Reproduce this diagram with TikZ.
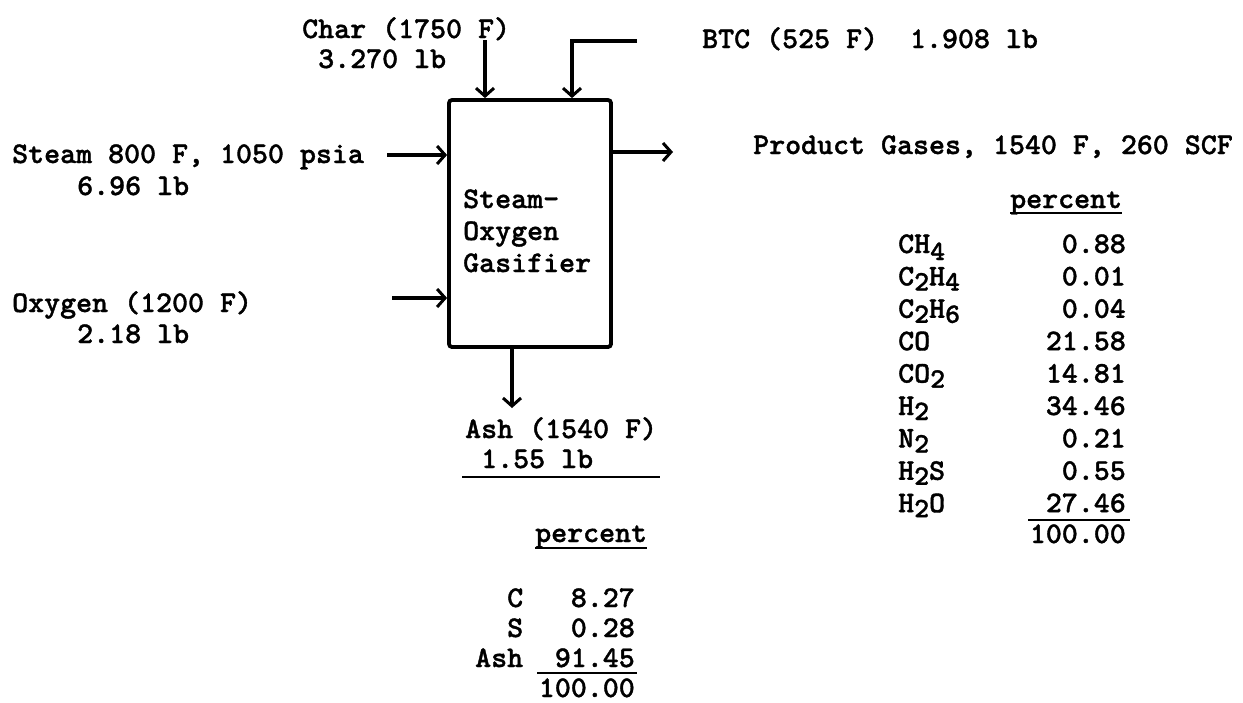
\documentclass[tikz,border=0pt]{standalone}
\usepackage{fontspec}
\newfontfamily\twfont{lmmonolt10-bold.otf}[FakeBold=1.2, FakeStretch=1.015]
\usetikzlibrary{arrows.meta}
\newcommand\sbs[1]{\raisebox{-5pt}{\fontsize{28}{28}\selectfont #1}}
\newcommand\sbd[1]{\raisebox{-7pt}{\fontsize{28}{28}\selectfont #1}}
\begin{document}
\begin{tikzpicture}[x=1pt,y=-1pt,
  tw/.style={font=\twfont\fontsize{30}{32}\selectfont, inner sep=0pt, anchor=base west},
  twr/.style={tw, anchor=base east},
  flow/.style={line width=3.2pt, -{Straight Barb[length=8pt,width=18pt,line width=3pt]}},
  ul/.style={line width=2.4pt},
  unit/.style={draw, line width=3.8pt, rounded corners=3pt, minimum width=162pt, minimum height=247pt, inner sep=0pt}]
\useasboundingbox (0,0) rectangle (1243,702);

% gasifier
\node[unit] (gas) at (530,223.5) {};
\node[tw] (g1) at (463,208) {Steam-};
\node[tw] (g2) at (463,240) {Oxygen};
\node[tw] (g3) at (463,272) {Gasifier};

% inputs
\node[tw] (char1) at (302,38) {Char (1750 F)};
\node[tw] (char2) at (318,68) {3.270 lb};
\node[tw] (btc) at (702,48) {BTC (525 F)~~1.908 lb};
\node[tw] (st1) at (12,163) {Steam 800 F, 1050 psia};
\node[tw] (st2) at (77,195) {6.96 lb};
\node[tw] (ox1) at (12,312) {Oxygen (1200 F)};
\node[tw] (ox2) at (77,343) {2.18 lb};
\node[tw] (prod) at (753,154) {Product Gases, 1540 F, 260 SCF};

% arrows
\coordinate (charT) at (485,40);
\draw[flow] (charT) -- (charT |- gas.north);
\coordinate (btcA) at (637,41);
\coordinate (btcB) at (572,41);
\draw[flow] (btcA) -- (btcB) -- (btcB |- gas.north);
\coordinate (stT) at (387,155);
\draw[flow] (stT) -- (stT -| gas.west);
\coordinate (oxT) at (392,298);
\draw[flow] (oxT) -- (oxT -| gas.west);
\coordinate (prH) at (673,152);
\draw[flow] (prH -| gas.east) -- (prH);
\coordinate (ashH) at (512,408);
\draw[flow] (ashH |- gas.south) -- (ashH);

% ash output
\node[tw] (ash1) at (465,438) {Ash (1540 F)};
\node[tw] (ash2) at (481,468) {1.55 lb};
\coordinate (au1) at (462,477);
\coordinate (au2) at (660,477);
\draw[ul] (au1) -- (au2);
\node[tw] (ap) at (535,542) {percent};
\draw[ul] ([shift={(0,6)}]ap.base west) -- ([shift={(0,6)}]ap.base east);
\node[tw] (ac) at (507,607) {C};
\node[twr] (acv) at (635,607) {8.27};
\node[tw] (as) at (507,637) {S};
\node[twr] (asv) at (635,637) {0.28};
\node[tw] (aa) at (475,667) {Ash};
\node[twr] (aav) at (635,667) {91.45};
\draw[ul] ([shift={(-98,6)}]aav.base east) -- ([shift={(2,6)}]aav.base east);
\node[twr] (atot) at (635,697) {100.00};

% product gas table
\node[tw] (gp) at (1010,208) {percent};
\draw[ul] ([shift={(0,5)}]gp.base west) -- ([shift={(0,5)}]gp.base east);
\foreach \f/\v [count=\i from 0] in {CH\sbd{4}/0.88, C\sbs{2}H\sbs{4}/0.01, C\sbs{2}H\sbs{6}/0.04, CO/21.58, CO\sbs{2}/14.81, H\sbs{2}/34.46, N\sbs{2}/0.21, H\sbs{2}S/0.55, H\sbs{2}O/27.46}{
  \node[tw] (gf\i) at (898,{253+32.4*\i}) {\f};
  \node[twr] (gv\i) at (1126,{253+32.4*\i}) {\v};
}
\draw[ul] ([shift={(-98,8)}]gv8.base east) -- ([shift={(4,8)}]gv8.base east);
\node[twr] (gtot) at (1126,543) {100.00};
\end{tikzpicture}
\end{document}
